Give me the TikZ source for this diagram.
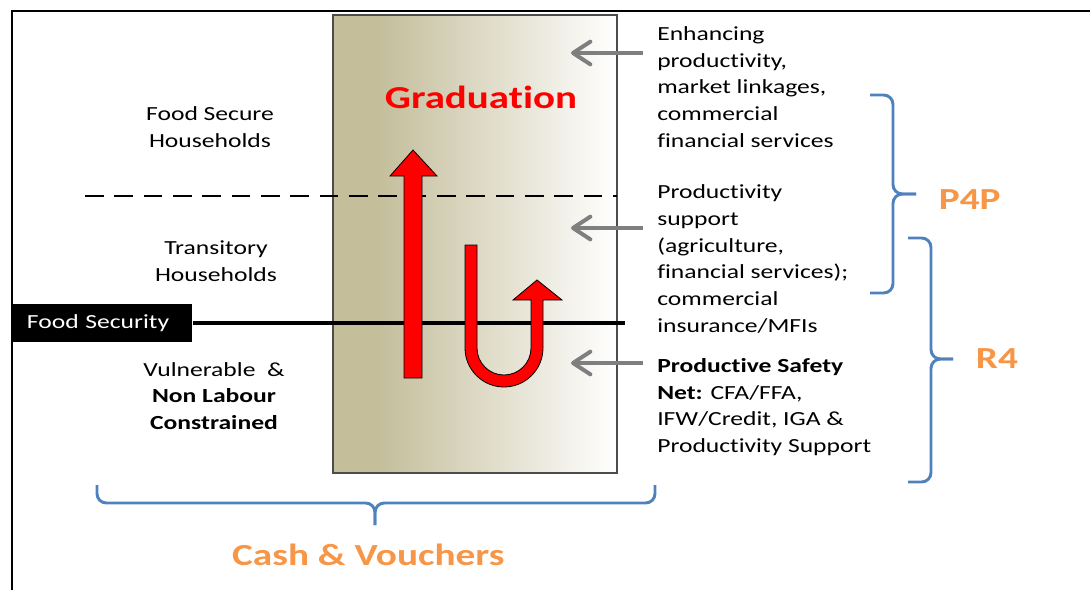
\documentclass[tikz,border=0pt]{standalone}
\usepackage{fontspec}
\setmainfont[FakeStretch=1.28,Ligatures=NoCommon]{Carlito}
\usetikzlibrary{positioning,arrows.meta}
\definecolor{boxtan}{RGB}{196,190,155}
\definecolor{braceblue}{RGB}{79,129,189}
\definecolor{lblorange}{RGB}{247,150,70}
\definecolor{arrgray}{RGB}{127,127,127}
\pgfdeclarehorizontalshading{tanfade}{100bp}{color(0bp)=(boxtan); color(33bp)=(boxtan); color(75bp)=(white); color(100bp)=(white)}

\begin{document}
\begin{tikzpicture}[x=0.75pt,y=-0.75pt,
txt/.style={font=\fontsize{15}{20}\selectfont,inner sep=0pt,align=center},
rtxt/.style={txt,align=left,anchor=west},
lbl/.style={font=\fontsize{23}{26}\selectfont\bfseries,text=lblorange,inner sep=0pt},
brc/.style={draw=braceblue,line width=2.2pt,rounded corners=7pt},
grayarr/.style={draw=arrgray,line width=3pt,-{Straight Barb[round,length=13pt,width=17pt]}},
redarr/.style={fill=red,draw=black,line width=0.6pt}]
\useasboundingbox (0,0) rectangle (1090,590);
\draw [line width=1.5pt] (12,590) -- (12,11) -- (1090,11);

% the shaded column
\shade [shading=tanfade] (333,15) rectangle (617,473);
\draw [draw=black!70,line width=0.8pt] (333,15) rectangle (617,473);

% thresholds
\coordinate (dashl) at (85,196);
\coordinate (dashr) at (617,196);
\draw [line width=1.5pt,dash pattern=on 14pt off 8pt] (dashl) -- (dashr);
\node (fsbox) [fill=black,text=white,font=\fontsize{15}{18}\selectfont,
    anchor=west,inner xsep=11pt,text width=113pt,align=left,
    minimum height=29pt] at (12,323) {Food Security};
\coordinate (fsend) at (625,323);
\draw [line width=3pt] (fsbox.east) -- (fsend);

% red arrows
\draw [redarr] (404,378) -- (404,176) -- (390,176) -- (413,150) -- (437,176)
    -- (422,176) -- (422,378) -- cycle;
\draw [redarr] (465,245) -- (465,348)
    .. controls (465,369.5) and (482.5,387) .. (504,387)
    .. controls (525.5,387) and (543,369.5) .. (543,348)
    -- (543,300) -- (562,300) -- (537,280) -- (513,300) -- (531,300) -- (531,348)
    .. controls (531,362.9) and (518.9,375) .. (504,375)
    .. controls (489.1,375) and (477,362.9) .. (477,348)
    -- (477,245) -- cycle;
\node (grad) [font=\fontsize{24}{28}\selectfont\bfseries,text=red] at (481,97) {Graduation};

% household groups
\node (fsh) [txt] at (210,127) {Food Secure\\Households};
\node (trh) [txt] at (216,261) {Transitory\\Households};
\node (vul) [txt] at (214,396) {Vulnerable\ \ \&\\\textbf{Non Labour}\\\textbf{Constrained}};

% interventions
\node (enh) [rtxt] at (657,87) {Enhancing\\productivity,\\market linkages,\\commercial\\financial services};
\node (psup) [rtxt] at (657,259) {Productivity\\support\\(agriculture,\\financial services);\\commercial\\insurance/MFIs};
\node (psn) [rtxt] at (657,407) {\textbf{Productive Safety}\\\textbf{Net:} CFA/FFA,\\IFW/Credit, IGA \&\\Productivity Support};

\coordinate (a1s) at (643,53);  \coordinate (a1e) at (571,53);
\coordinate (a2s) at (643,228); \coordinate (a2e) at (571,228);
\coordinate (a3s) at (643,363); \coordinate (a3e) at (571,363);
\draw [grayarr] (a1s) -- (a1e);
\draw [grayarr] (a2s) -- (a2e);
\draw [grayarr] (a3s) -- (a3e);

% braces
\coordinate (p4ptip) at (916,194);
\draw [brc] (870,95) -| (893,194) -- (p4ptip);
\draw [brc] (870,293) -| (893,194) -- (p4ptip);
\node (p4p) [lbl,right=17pt of p4ptip,yshift=-4pt] {P4P};

\coordinate (r4tip) at (953,359);
\draw [brc] (908,238) -| (931,359) -- (r4tip);
\draw [brc] (908,482) -| (931,359) -- (r4tip);
\node (r4) [lbl,right=17pt of r4tip] {R4};

\coordinate (cvtip) at (375,525);
\draw [brc] (97,485) |- (375,503) -- (cvtip);
\draw [brc] (655,485) |- (375,503) -- (cvtip);
\node (cv) [lbl,below=14pt of cvtip,xshift=-5pt] {Cash \& Vouchers};
\end{tikzpicture}
\end{document}
